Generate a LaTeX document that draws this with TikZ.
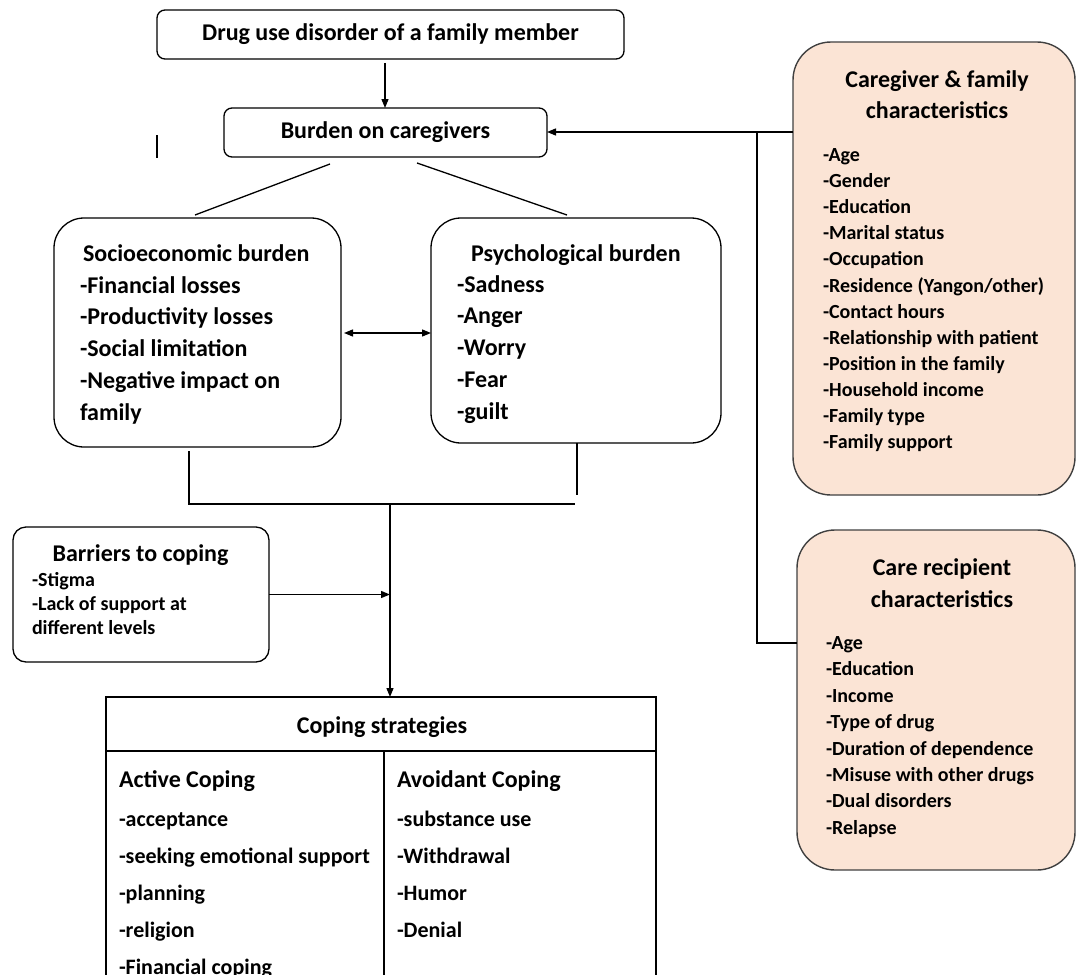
\documentclass[tikz,border=0pt]{standalone}
\usepackage{fontspec}
\setmainfont{Carlito}
\usetikzlibrary{arrows.meta}
\definecolor{peach}{HTML}{FBE4D5}
\definecolor{edgegray}{HTML}{404040}
\newcommand\FBig{\fontsize{24}{29}\selectfont\bfseries}
\newcommand\FMid{\fontsize{22}{27}\selectfont\bfseries}
\newcommand\FSmall{\fontsize{20}{24}\selectfont\bfseries}
\begin{document}
\begin{tikzpicture}[x=1pt,y=-1pt,
  ln/.style={line width=1.3pt, draw=black},
  arr/.style={ln, -{Triangle[length=9pt,width=7pt]}},
  darr/.style={ln, {Triangle[length=9pt,width=7pt]}-{Triangle[length=9pt,width=7pt]}},
  rbox/.style={draw=black, line width=1.3pt, rectangle, rounded corners=#1, inner sep=0pt, outer sep=0pt},
  pbox/.style={draw=edgegray, fill=peach, line width=1.4pt, rectangle, rounded corners=38pt, inner sep=0pt, outer sep=0pt},
  sqbox/.style={draw=black, line width=1.3pt, rectangle, inner sep=0pt, outer sep=0pt},
  txt/.style={inner sep=0pt, outer sep=0pt, font=\FBig, anchor=base west},
  mtxt/.style={inner sep=0pt, outer sep=0pt, font=\FMid, anchor=base west},
  stxt/.style={inner sep=0pt, outer sep=0pt, font=\FSmall, anchor=base west},
  ctxt/.style={inner sep=0pt, outer sep=0pt, font=\FBig, anchor=base}]
\useasboundingbox (0,0) rectangle (1078,974);
\clip (0,0) rectangle (1078,974);

% ---- boxes ----
\node[rbox=8pt, minimum width=467pt, minimum height=49pt, font=\FBig] (top) at (390.5,34.5) {Drug use disorder of a family member};
\node[rbox=8pt, minimum width=323pt, minimum height=49pt, font=\FBig] (burden) at (385.5,132.5) {Burden on caregivers};
\node[rbox=30pt, minimum width=287pt, minimum height=229pt] (socio) at (197.5,332.5) {};
\node[rbox=30pt, minimum width=290pt, minimum height=225pt] (psych) at (576,330.5) {};
\node[rbox=13pt, minimum width=256pt, minimum height=135pt] (barr) at (141,594.5) {};
\node[sqbox, minimum width=550pt, minimum height=320pt] (coping) at (381,857) {};
\node[pbox, minimum width=282pt, minimum height=453pt] (cgf) at (934,268.5) {};
\node[pbox, minimum width=278pt, minimum height=340pt] (crc) at (936,700) {};

% ---- texts: socioeconomic ----
\node[txt] (soct) at (83,261) {Socioeconomic burden};
\foreach \t [count=\i] in {-Financial losses,-Productivity losses,-Social limitation,-Negative impact on,family}
  \node[txt] (soc-\i) at (80,{293+31.8*(\i-1)}) {\t};
% ---- psychological ----
\node[txt] (psyt) at (471,261) {Psychological burden};
\foreach \t [count=\i] in {-Sadness,-Anger,-Worry,-Fear,-guilt}
  \node[txt] (psy-\i) at (457,{292+31.8*(\i-1)}) {\t};
% ---- barriers ----
\node[ctxt] (barrt) at (140.5,561) {Barriers to coping};
\foreach \t [count=\i] in {-Stigma,-Lack of support at,different levels}
  \node[stxt] (bar-\i) at (32,{586+24*(\i-1)}) {\t};
% ---- coping ----
\coordinate (hdr) at (0,751);
\coordinate (divx) at (384,0);
\draw[ln] (coping.west |- hdr) -- (coping.east |- hdr);
\draw[ln] (divx |- hdr) -- (divx |- coping.south);
\node[ctxt] (copt) at (382,733) {Coping strategies};
\node[txt] (actt) at (119,787) {Active Coping};
\foreach \t [count=\i] in {-acceptance,-seeking emotional support,-planning,-religion,-Financial coping}
  \node[mtxt] (act-\i) at (119,{826+37*(\i-1)}) {\t};
\node[txt] (avot) at (397,787) {Avoidant Coping};
\foreach \t [count=\i] in {-substance use,-Withdrawal,-Humor,-Denial}
  \node[mtxt] (avo-\i) at (397,{826+37*(\i-1)}) {\t};
% ---- caregiver & family ----
\node[ctxt] (cgft1) at (937,87) {Caregiver \& family};
\node[ctxt] (cgft2) at (937,118) {characteristics};
\foreach \t [count=\i] in {-Age,-Gender,-Education,-Marital status,-Occupation,-Residence (Yangon/other),-Contact hours,-Relationship with patient,-Position in the family,-Household income,-Family type,-Family support}
  \node[stxt] (cgf-\i) at (823,{161.5+26.1*(\i-1)}) {\t};
% ---- care recipient ----
\node[ctxt] (crct1) at (942,575) {Care recipient};
\node[ctxt] (crct2) at (942,607) {characteristics};
\foreach \t [count=\i] in {-Age,-Education,-Income,-Type of drug,-Duration of dependence,-Misuse with other drugs,-Dual disorders,-Relapse}
  \node[stxt] (crc-\i) at (826,{649.5+26.4*(\i-1)}) {\t};

% ---- connectors ----
\coordinate (ax) at (385,0);
\draw[arr] (ax |- top.south) ++(0,4) -- (ax |- burden.north);
% stray mark
\coordinate (s1) at (157,135);
\coordinate (s2) at (157,158);
\draw[ln] (s1) -- (s2);
% diagonals
\coordinate (dl1) at (330,164);
\coordinate (dl2) at (195,215);
\coordinate (dr1) at (417,163);
\coordinate (dr2) at (567,215);
\draw[ln] (dl1) -- (dl2);
\draw[ln] (dr1) -- (dr2);
% between burdens
\coordinate (by) at (0,333);
\draw[darr] ([xshift=3pt]socio.east |- by) -- (psych.west |- by);
% merge
\coordinate (ml) at (189,451);
\coordinate (mlb) at (189,504);
\coordinate (mrb) at (575,504);
\coordinate (mr) at (577,495);
\coordinate (mc) at (390,504);
\draw[ln] (ml) -- (mlb) -- (mrb);
\draw[ln] (psych.south -| mr) -- (mr);
\draw[arr] (mc) -- (mc |- coping.north);
% barriers
\draw[arr] (barr.east) -- (barr.east -| mc);
% characteristics
\coordinate (jy) at (0,132);
\coordinate (jx) at (757,0);
\coordinate (ry) at (0,643);
\draw[arr] (cgf.west |- jy) -- (burden.east |- jy);
\draw[ln] (jx |- jy) -- (jx |- ry) -- (crc.west |- ry);
\end{tikzpicture}
\end{document}
